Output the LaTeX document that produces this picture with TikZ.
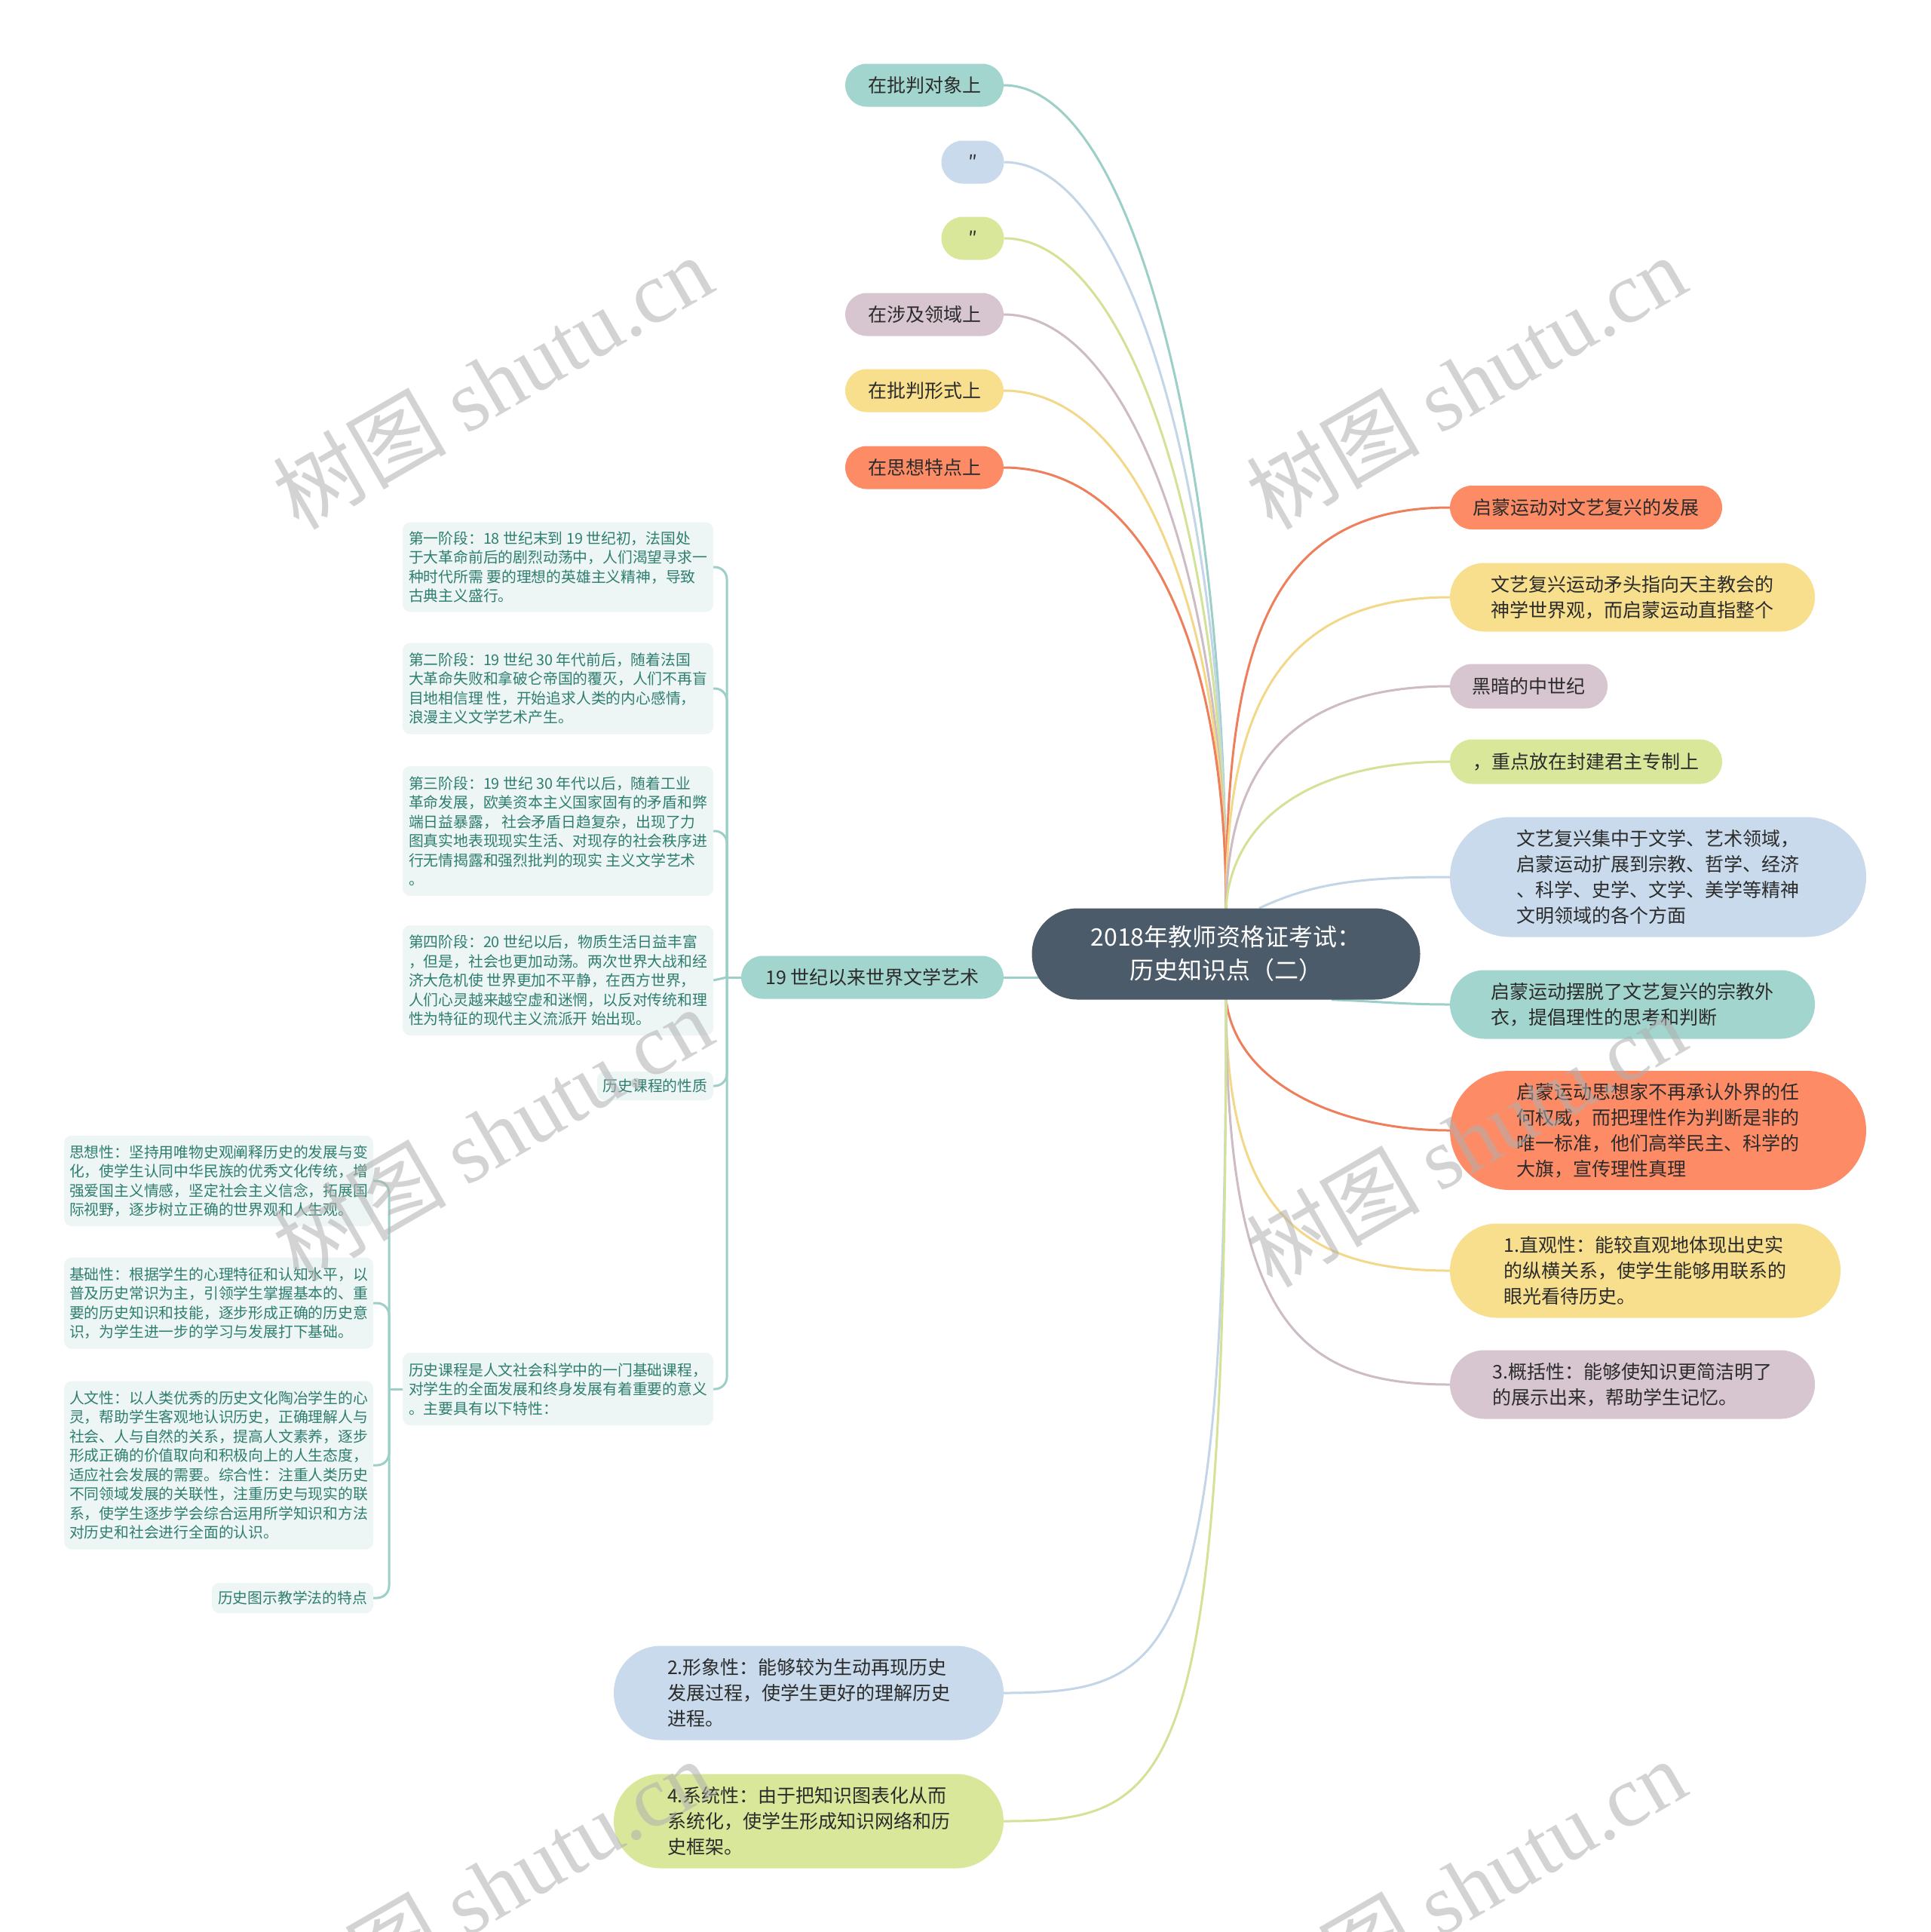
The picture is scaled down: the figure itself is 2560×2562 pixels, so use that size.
\documentclass[tikz,border=0pt]{standalone}
\usepackage{fontspec}
\setmainfont{Noto Sans CJK SC}
\newfontfamily\wmserif{Liberation Serif}
\usetikzlibrary{shapes.misc,backgrounds}
\pgfdeclarelayer{paper}
\pgfsetlayers{paper,background,main}
\definecolor{cteal}{HTML}{A3D5CF}
\definecolor{cblue}{HTML}{C8DAEB}
\definecolor{cgreen}{HTML}{D9E79B}
\definecolor{cpurple}{HTML}{D7C6D0}
\definecolor{cyellow}{HTML}{F7DF8E}
\definecolor{corange}{HTML}{FD8B66}
\definecolor{lteal}{HTML}{9CCFC8}
\definecolor{lblue}{HTML}{C3D6E8}
\definecolor{lgreen}{HTML}{D3E296}
\definecolor{lpurple}{HTML}{CDBCC6}
\definecolor{lyellow}{HTML}{F3D88A}
\definecolor{lorange}{HTML}{EE7E5C}
\definecolor{croot}{HTML}{4B5B69}
\definecolor{cbox}{HTML}{EEF6F5}
\definecolor{cboxtext}{HTML}{2E7E70}
\definecolor{ctext}{HTML}{2B2B2B}
\definecolor{wm}{HTML}{B0B0B0}
\tikzset{
  pill/.style={rounded rectangle, fill=#1, draw=none, inner sep=0pt, text=ctext,
    align=left, font=\fontsize{25}{34}\selectfont},
  rootnode/.style={rounded rectangle, fill=croot, draw=none, text=white, align=center,
    inner sep=0pt, minimum width=515pt, minimum height=121pt,
    font=\fontsize{32}{44}\selectfont},
  subbox/.style={rectangle, rounded corners=10pt, fill=cbox, draw=none, text=cboxtext,
    inner sep=0pt, align=left, font=\fontsize{19.8}{25.5}\selectfont},
  link/.style={line width=3pt, draw=#1},
  treelink/.style={line width=3pt, draw=lteal, rounded corners=16pt},
  wmark/.style={text=wm, opacity=0.55, rotate=30, inner sep=0pt,
    font=\fontsize{115}{115}\selectfont}
}
\begin{document}
\begin{tikzpicture}[x=1pt,y=-1pt]
\useasboundingbox (0,0) rectangle (2560,2562);
\begin{pgfonlayer}{paper}
\fill[white] (0,0) rectangle (2560,2562);
\end{pgfonlayer}

% root
\node[rootnode] (root) at (1626,1265) {2018年教师资格证考试：\\历史知识点（二）};

% top-left nodes
\node[pill=cteal, minimum width=210pt, minimum height=57pt] (tl1) at (1226,113) {在批判对象上};
\node[pill=cblue, minimum width=83pt, minimum height=57pt] (tl2) at (1290,215) {″};
\node[pill=cgreen, minimum width=83pt, minimum height=57pt] (tl3) at (1290,316) {″};
\node[pill=cpurple, minimum width=210pt, minimum height=57pt] (tl4) at (1226,417) {在涉及领域上};
\node[pill=cyellow, minimum width=210pt, minimum height=57pt] (tl5) at (1226,518) {在批判形式上};
\node[pill=corange, minimum width=210pt, minimum height=57pt] (tl6) at (1226,620) {在思想特点上};

% right nodes
\node[pill=corange, minimum width=361pt, minimum height=58pt] (r1) at (2103.5,673) {启蒙运动对文艺复兴的发展};
\node[pill=cyellow, minimum width=484pt, minimum height=91pt] (r2) at (2165,792) {文艺复兴运动矛头指向天主教会的\\神学世界观，而启蒙运动直指整个};
\node[pill=cpurple, minimum width=209pt, minimum height=59pt] (r3) at (2027.5,910) {黑暗的中世纪};
\node[pill=cgreen, minimum width=361pt, minimum height=59pt] (r4) at (2103.5,1010) {，重点放在封建君主专制上};
\node[pill=cblue, minimum width=552pt, minimum height=159pt] (r5) at (2199,1163) {文艺复兴集中于文学、艺术领域，\\启蒙运动扩展到宗教、哲学、经济\\、科学、史学、文学、美学等精神\\文明领域的各个方面};
\node[pill=cteal, minimum width=484pt, minimum height=91pt] (r6) at (2165,1332) {启蒙运动摆脱了文艺复兴的宗教外\\衣，提倡理性的思考和判断};
\node[pill=corange, minimum width=552pt, minimum height=158pt] (r7) at (2199,1499) {启蒙运动思想家不再承认外界的任\\何权威，而把理性作为判断是非的\\唯一标准，他们高举民主、科学的\\大旗，宣传理性真理};
\node[pill=cyellow, minimum width=518pt, minimum height=125pt] (r8) at (2182,1685) {1.直观性：能较直观地体现出史实\\的纵横关系，使学生能够用联系的\\眼光看待历史。};
\node[pill=cpurple, minimum width=484pt, minimum height=91pt] (r9) at (2165,1836) {3.概括性：能够使知识更简洁明了\\的展示出来，帮助学生记忆。};

% bottom-left nodes
\node[pill=cblue, minimum width=517pt, minimum height=125pt] (b1) at (1072.5,2245) {2.形象性：能够较为生动再现历史\\发展过程，使学生更好的理解历史\\进程。};
\node[pill=cgreen, minimum width=517pt, minimum height=125pt] (b2) at (1072.5,2415) {4.系统性：由于把知识图表化从而\\系统化，使学生形成知识网络和历\\史框架。};

% left branch
\node[pill=cteal, minimum width=348pt, minimum height=57pt] (n19) at (1157,1296) {19 世纪以来世界文学艺术};

\node[subbox, minimum width=412pt, minimum height=119pt] (s1) at (740,752) {第一阶段：18 世纪末到 19 世纪初，法国处\\于大革命前后的剧烈动荡中，人们渴望寻求一\\种时代所需 要的理想的英雄主义精神，导致\\古典主义盛行。};
\node[subbox, minimum width=412pt, minimum height=121pt] (s2) at (740,913) {第二阶段：19 世纪 30 年代前后，随着法国\\大革命失败和拿破仑帝国的覆灭，人们不再盲\\目地相信理 性，开始追求人类的内心感情，\\浪漫主义文学艺术产生。};
\node[subbox, minimum width=412pt, minimum height=172pt] (s3) at (740,1102) {第三阶段：19 世纪 30 年代以后，随着工业\\革命发展，欧美资本主义国家固有的矛盾和弊\\端日益暴露， 社会矛盾日趋复杂，出现了力\\图真实地表现现实生活、对现存的社会秩序进\\行无情揭露和强烈批判的现实 主义文学艺术\\。};
\node[subbox, minimum width=412pt, minimum height=146pt] (s4) at (740,1300) {第四阶段：20 世纪以后，物质生活日益丰富\\，但是，社会也更加动荡。两次世界大战和经\\济大危机使 世界更加不平静，在西方世界，\\人们心灵越来越空虚和迷惘，以反对传统和理\\性为特征的现代主义流派开 始出现。};
\node[subbox, minimum width=154pt, minimum height=38pt] (s5) at (869,1440) {历史课程的性质};
\node[subbox, minimum width=412pt, minimum height=96pt] (s6) at (740,1842) {历史课程是人文社会科学中的一门基础课程，\\对学生的全面发展和终身发展有着重要的意义\\。主要具有以下特性：};

\node[subbox, minimum width=410pt, minimum height=120pt] (t1) at (290,1566) {思想性：坚持用唯物史观阐释历史的发展与变\\化，使学生认同中华民族的优秀文化传统，增\\强爱国主义情感，坚定社会主义信念，拓展国\\际视野，逐步树立正确的世界观和人生观。};
\node[subbox, minimum width=410pt, minimum height=121pt] (t2) at (290,1728) {基础性：根据学生的心理特征和认知水平，以\\普及历史常识为主，引领学生掌握基本的、重\\要的历史知识和技能，逐步形成正确的历史意\\识，为学生进一步的学习与发展打下基础。};
\node[subbox, minimum width=410pt, minimum height=223pt] (t3) at (290,1943) {人文性：以人类优秀的历史文化陶冶学生的心\\灵，帮助学生客观地认识历史，正确理解人与\\社会、人与自然的关系，提高人文素养，逐步\\形成正确的价值取向和积极向上的人生态度，\\适应社会发展的需要。综合性：注重人类历史\\不同领域发展的关联性，注重历史与现实的联\\系，使学生逐步学会综合运用所学知识和方法\\对历史和社会进行全面的认识。};
\node[subbox, minimum width=214pt, minimum height=40pt] (t4) at (388,2119) {历史图示教学法的特点};

\coordinate (j1) at (964,1296);
\coordinate (j2) at (516,1842);

\begin{pgfonlayer}{background}
% top-left connectors
\draw[link=lteal] (tl1.east) .. controls (1500,113) and (1626,600) .. (root.north);
\draw[link=lblue] (tl2.east) .. controls (1500,215) and (1626,660) .. (root.north);
\draw[link=lgreen] (tl3.east) .. controls (1500,316) and (1626,720) .. (root.north);
\draw[link=lpurple] (tl4.east) .. controls (1500,417) and (1626,780) .. (root.north);
\draw[link=lyellow] (tl5.east) .. controls (1510,518) and (1626,820) .. (root.north);
\draw[link=lorange] (tl6.east) .. controls (1520,620) and (1626,860) .. (root.north);
% right connectors
\draw[link=lorange] (root.north) .. controls (1626,860) and (1680,673) .. (r1.west);
\draw[link=lyellow] (root.north) .. controls (1626,950) and (1690,792) .. (r2.west);
\draw[link=lpurple] (root.north) .. controls (1628,1030) and (1700,910) .. (r3.west);
\draw[link=lgreen] (root.north) .. controls (1632,1100) and (1720,1010) .. (r4.west);
\draw[link=lblue] ([xshift=44pt]root.north) .. controls (1740,1172) and (1800,1163) .. (r5.west);
\draw[link=lteal] ([xshift=140pt]root.south) .. controls (1830,1328) and (1860,1332) .. (r6.west);
\draw[link=lorange] (root.south) .. controls (1640,1440) and (1780,1499) .. (r7.west);
\draw[link=lyellow] (root.south) .. controls (1626,1600) and (1720,1685) .. (r8.west);
\draw[link=lpurple] (root.south) .. controls (1626,1750) and (1720,1836) .. (r9.west);
% bottom-left connectors
\draw[link=lblue] (root.south) .. controls (1626,2200) and (1560,2245) .. (b1.east);
\draw[link=lgreen] (root.south) .. controls (1626,2370) and (1560,2415) .. (b2.east);
% left branch
\draw[link=lteal] (n19.east) -- (n19.east -| root.center);
\draw[link=lteal] (n19.west) -- (j1);
\draw[treelink] (s1.east) -| (j1);
\draw[treelink] (s2.east) -| (j1);
\draw[treelink] (s3.east) -| (j1);
\draw[link=lteal] (s4.east) -- (j1);
\draw[treelink] (s5.east) -| (j1);
\draw[treelink] (s6.east) -| (j1);
\draw[link=lteal] (s6.west) -- (j2);
\draw[treelink] (t1.east) -| (j2);
\draw[treelink] (t2.east) -| (j2);
\draw[treelink] (t3.east) -| (j2);
\draw[treelink] (t4.east) -| (j2);
\end{pgfonlayer}

% watermarks
\node[wmark] (wm1) at (653,506) {树图 {\wmserif shutu.cn}};
\node[wmark] (wm2) at (1944,506) {树图 {\wmserif shutu.cn}};
\node[wmark] (wm3) at (653,1503) {树图 {\wmserif shutu.cn}};
\node[wmark] (wm4) at (1944,1511) {树图 {\wmserif shutu.cn}};
\node[wmark] (wm5) at (653,2500) {树图 {\wmserif shutu.cn}};
\node[wmark] (wm6) at (1944,2500) {树图 {\wmserif shutu.cn}};
\end{tikzpicture}
\end{document}
